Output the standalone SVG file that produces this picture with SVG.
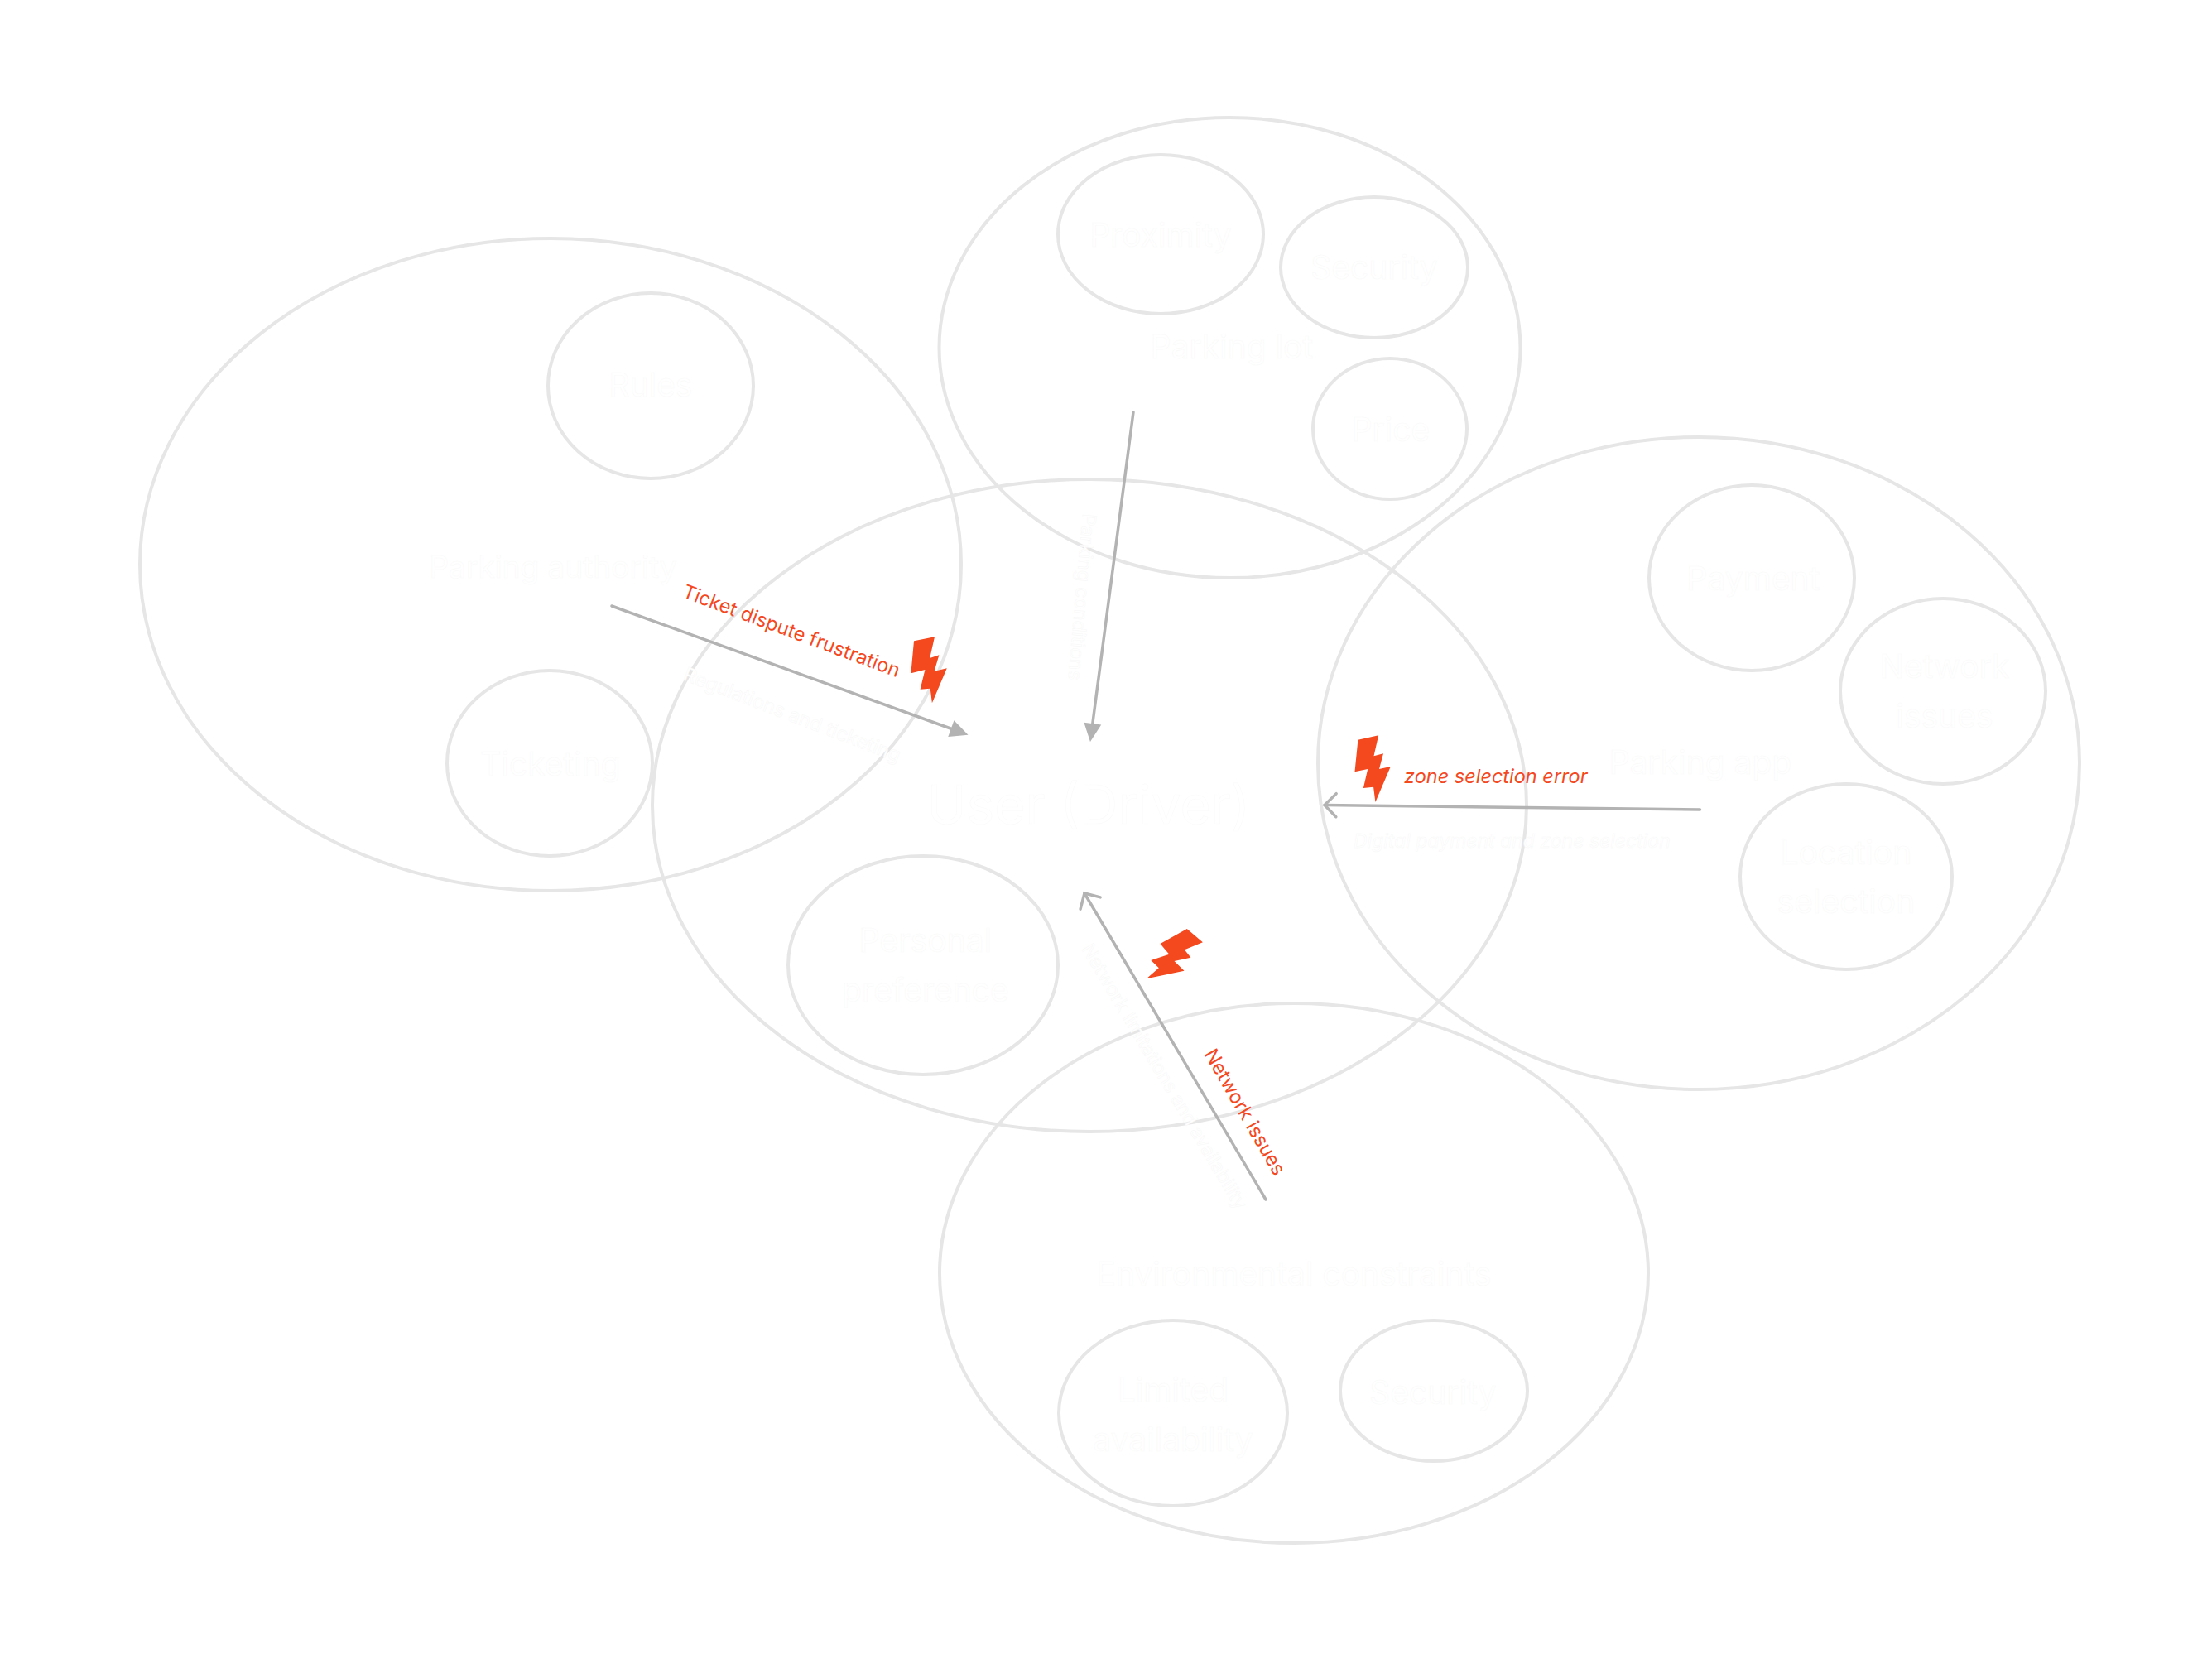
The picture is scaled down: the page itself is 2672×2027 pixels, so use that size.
<svg xmlns="http://www.w3.org/2000/svg" width="2672" height="2027" viewBox="0 0 2672 2027">
<style>
ellipse{fill:none;stroke:#e6e6e6;stroke-width:4}
text{font-family:Inter,"Liberation Sans",sans-serif}
.n{font-size:39px;text-anchor:middle;fill:#fff;stroke:#fafafa;stroke-width:.6}
.u{font-size:64px;text-anchor:middle;fill:#fff;stroke:#fafafa;stroke-width:.6}
.e{font-size:23px;fill:#fff;stroke:#f8f8f8;stroke-width:.5}
.r{font-size:23.500px;fill:#f4481f}
.c{fill:none;stroke:#b3b3b3;stroke-width:3.5;stroke-linecap:round}
.b{fill:#f4481f}
</style>
<defs>
<marker id="af" markerUnits="userSpaceOnUse" markerWidth="30" markerHeight="30" refX="16" refY="15" orient="auto"><path d="M2 4.500L24 15 2 25.500z" fill="#b3b3b3"/></marker>
<marker id="ao" markerUnits="userSpaceOnUse" markerWidth="30" markerHeight="36" refX="20" refY="18" orient="auto"><path d="M6 4L20 18 6 32" fill="none" stroke="#b3b3b3" stroke-width="3.500" stroke-linecap="round"/></marker>
</defs>
<rect width="2672" height="2027" fill="#fff"/>
<g id="authority"><ellipse cx="665" cy="682" rx="496" ry="394"/><text class="n" x="668" y="698" style="font-size:37px">Parking authority</text></g>
<g id="user"><ellipse cx="1316" cy="973" rx="528" ry="394"/><text class="u" x="1315" y="995">User (Driver)</text></g>
<g id="lot"><ellipse cx="1485.500" cy="420" rx="351" ry="278"/><text class="n" x="1488" y="433">Parking lot</text></g>
<g id="app"><ellipse cx="2052" cy="922" rx="460" ry="394"/><text class="n" x="2054" y="935">Parking app</text></g>
<g id="env"><ellipse cx="1563" cy="1538" rx="428" ry="326"/><text class="n" x="1563" y="1553">Environmental constraints</text></g>
<g id="proximity"><ellipse cx="1402" cy="283" rx="124" ry="96"/><text class="n" x="1402" y="298">Proximity</text></g>
<g id="lot-security"><ellipse cx="1660" cy="323" rx="113" ry="85"/><text class="n" x="1660" y="337">Security</text></g>
<g id="price"><ellipse cx="1679" cy="518" rx="93" ry="85"/><text class="n" x="1680" y="533">Price</text></g>
<g id="rules"><ellipse cx="786" cy="466" rx="124" ry="112"/><text class="n" x="786" y="479">Rules</text></g>
<g id="ticketing"><ellipse cx="664" cy="922" rx="124" ry="112"/><text class="n" x="665" y="937">Ticketing</text></g>
<g id="preference"><ellipse cx="1115" cy="1166" rx="163" ry="132"/><text class="n" x="1118" y="1150">Personal</text><text class="n" x="1118" y="1210">preference</text></g>
<g id="payment"><ellipse cx="2116" cy="698" rx="124" ry="112"/><text class="n" x="2118" y="713">Payment</text></g>
<g id="network"><ellipse cx="2347" cy="835" rx="124" ry="112"/><text class="n" x="2349" y="819">Network</text><text class="n" x="2349" y="879">issues</text></g>
<g id="location"><ellipse cx="2230" cy="1059" rx="128" ry="112"/><text class="n" x="2230" y="1044">Location</text><text class="n" x="2230" y="1103">selection</text></g>
<g id="limited"><ellipse cx="1417" cy="1707" rx="138" ry="112"/><text class="n" x="1417" y="1693">Limited</text><text class="n" x="1417" y="1753">availability</text></g>
<g id="env-security"><ellipse cx="1732" cy="1680" rx="113" ry="85"/><text class="n" x="1731" y="1696">Security</text></g>
<g id="connectors">
<line class="c" x1="739" y1="732" x2="1162" y2="885" marker-end="url(#af)"/>
<line class="c" x1="1369" y1="498" x2="1318" y2="888" marker-end="url(#af)"/>
<line class="c" x1="2053.500" y1="978" x2="1600" y2="972.500" marker-end="url(#ao)"/>
<line class="c" x1="1529" y1="1449" x2="1310" y2="1079" marker-end="url(#ao)"/>
<text class="e" transform="translate(824 821) rotate(21)" style="font-size:23.500px">Regulations and ticketing</text>
<text class="e" transform="translate(1308 620) rotate(95)">Parking conditions</text>
<text class="e" x="1635" y="1024" font-style="italic">Digital payment and zone selection</text>
<text class="e" transform="translate(1306 1146) rotate(59.300)" style="font-size:22.500px">Network limitations and availability</text>
<text class="r" transform="translate(823 721) rotate(20.500)">Ticket dispute frustration</text>
<text class="r" x="1696" y="946" font-style="italic">zone selection error</text>
<text class="r" transform="translate(1454 1273) rotate(60)">Network issues</text>
<polygon class="b" points="1104,774.300 1129,769.300 1123.200,795 1134.400,791.300 1128.600,810.700 1143.800,807.300 1125.900,849.300 1123.700,831.700 1111.600,832.700 1117.400,809 1100.400,813.300"/>
<polygon class="b" points="1640.400,893.700 1665.200,888.300 1659.500,913.300 1671,910.300 1666,929 1679.800,926 1661.400,969 1659.100,950.700 1646.900,952 1652.200,929 1636.500,932.300"/>
<polygon class="b" points="1433.800,1122 1452.900,1138.300 1430.900,1147.300 1438.400,1156.700 1418.500,1161 1430.500,1172.700 1384.900,1182.300 1399.800,1169.300 1390.300,1160 1412.300,1152.700 1401.500,1140"/>
</g>
</svg>
